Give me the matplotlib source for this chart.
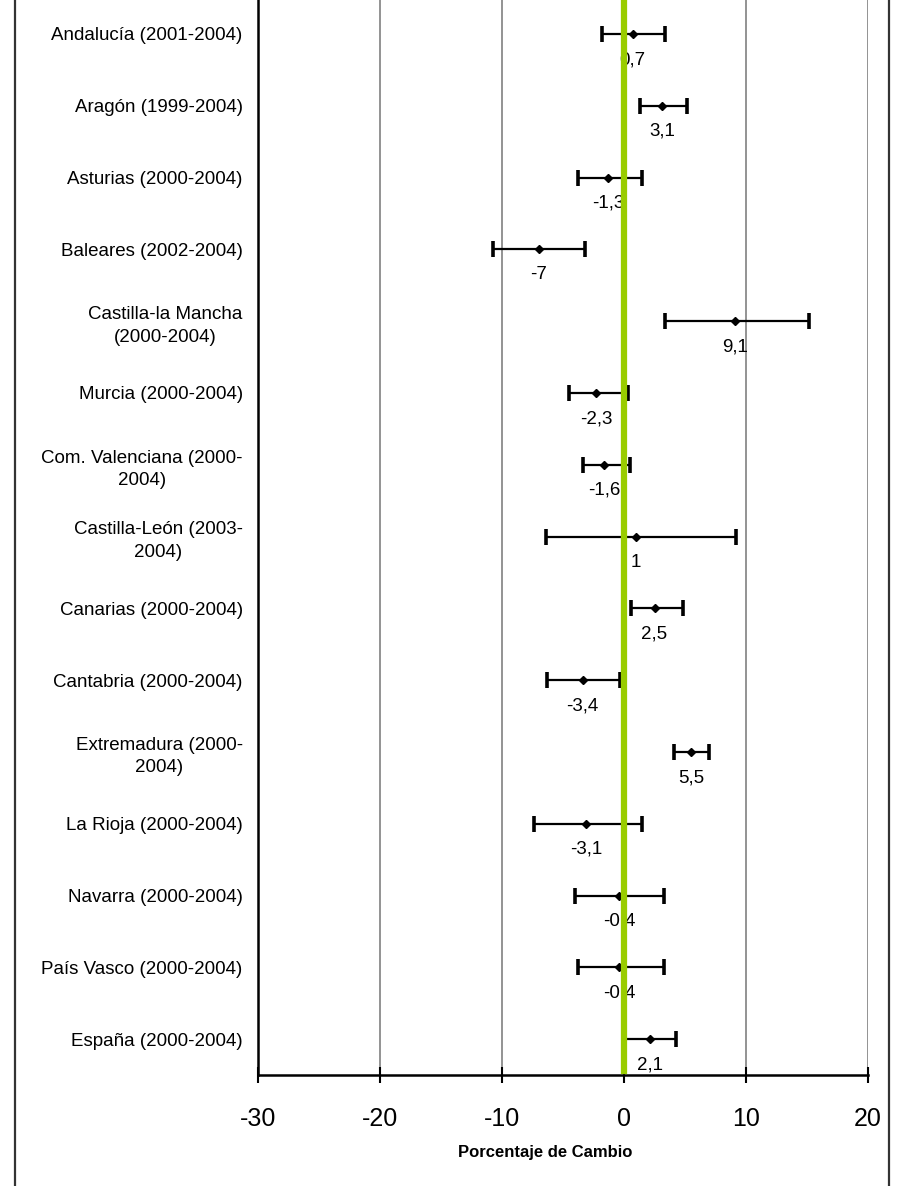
import matplotlib
matplotlib.use("Agg")
import matplotlib.pyplot as plt
from matplotlib.lines import Line2D

plt.rcParams['font.family'] = ['Liberation Sans', 'DejaVu Sans']

regiones = [
    "Andalucía (2001-2004)",
    "Aragón (1999-2004)",
    "Asturias (2000-2004)",
    "Baleares (2002-2004)",
    "Castilla-la Mancha\n(2000-2004)",
    "Murcia (2000-2004)",
    "Com. Valenciana (2000-\n2004)",
    "Castilla-León (2003-\n2004)",
    "Canarias (2000-2004)",
    "Cantabria (2000-2004)",
    "Extremadura (2000-\n2004)",
    "La Rioja (2000-2004)",
    "Navarra (2000-2004)",
    "País Vasco (2000-2004)",
    "España (2000-2004)",
]
cambio = [0.7, 3.1, -1.3, -7.0, 9.1, -2.3, -1.6, 1.0, 2.5, -3.4, 5.5, -3.1, -0.4, -0.4, 2.1]
ic_inf = [-1.8, 1.3, -3.8, -10.7, 3.4, -4.5, -3.4, -6.4, 0.6, -6.3, 4.1, -7.4, -4.0, -3.8, 0.1]
ic_sup = [3.4, 5.2, 1.5, -3.2, 15.2, 0.3, 0.5, 9.2, 4.8, -0.3, 7.0, 1.5, 3.3, 3.3, 4.3]
xticks = [-30, -20, -10, 0, 10, 20]

W, H = 900, 1186
fig = plt.figure(figsize=(W / 100, H / 100), dpi=100)
ax = fig.add_axes([258 / W, (H - 1075) / H, 610 / W, 1077 / H])

pos = list(range(len(regiones)))
err_lo = [c - lo for c, lo in zip(cambio, ic_inf)]
err_hi = [hi - c for c, hi in zip(cambio, ic_sup)]

ax.errorbar(cambio, pos, xerr=[err_lo, err_hi], fmt='D', color='black',
            ecolor='black', markersize=4.5, elinewidth=1.6, capsize=6,
            capthick=2.6, zorder=3)

for c, p in zip(cambio, pos):
    txt = f"{c:g}".replace('.', ',')
    ax.annotate(txt, (c, p), xytext=(0, -18.5), textcoords='offset points',
                ha='center', va='center', fontsize=13.5, zorder=4)

# reference line at zero
ax.axvline(0, color='#99CC00', linewidth=4.5, zorder=5, ymin=0.004)

ax.set_xlim(-30, 20)
ax.set_ylim(len(regiones) - 0.5, -0.5)
ax.set_xticks(xticks)
ax.set_xticklabels([str(t) for t in xticks], fontsize=18)
ax.set_yticks(pos)
ax.set_yticklabels(regiones, fontsize=13.5, multialignment='center',
                   linespacing=1.42)
ax.tick_params(axis='y', length=0, pad=11)
ax.tick_params(axis='x', direction='inout', length=12, width=1.5, pad=17)

ax.grid(axis='x', color='#808080', linewidth=1.2, zorder=1)
ax.spines['top'].set_visible(False)
ax.spines['right'].set_visible(False)
ax.spines['left'].set_linewidth(1.8)
ax.spines['bottom'].set_linewidth(1.8)

fig.text(545 / W, 1 - 1152 / H, "Porcentaje de Cambio", ha='center', va='center',
         fontsize=12, fontweight='bold')

# outer frame
for xpix in (15, 889):
    fig.add_artist(Line2D([xpix / W, xpix / W], [0, 1], color='#333333',
                          linewidth=1.6, transform=fig.transFigure))

fig.savefig("out.png", dpi=100)
